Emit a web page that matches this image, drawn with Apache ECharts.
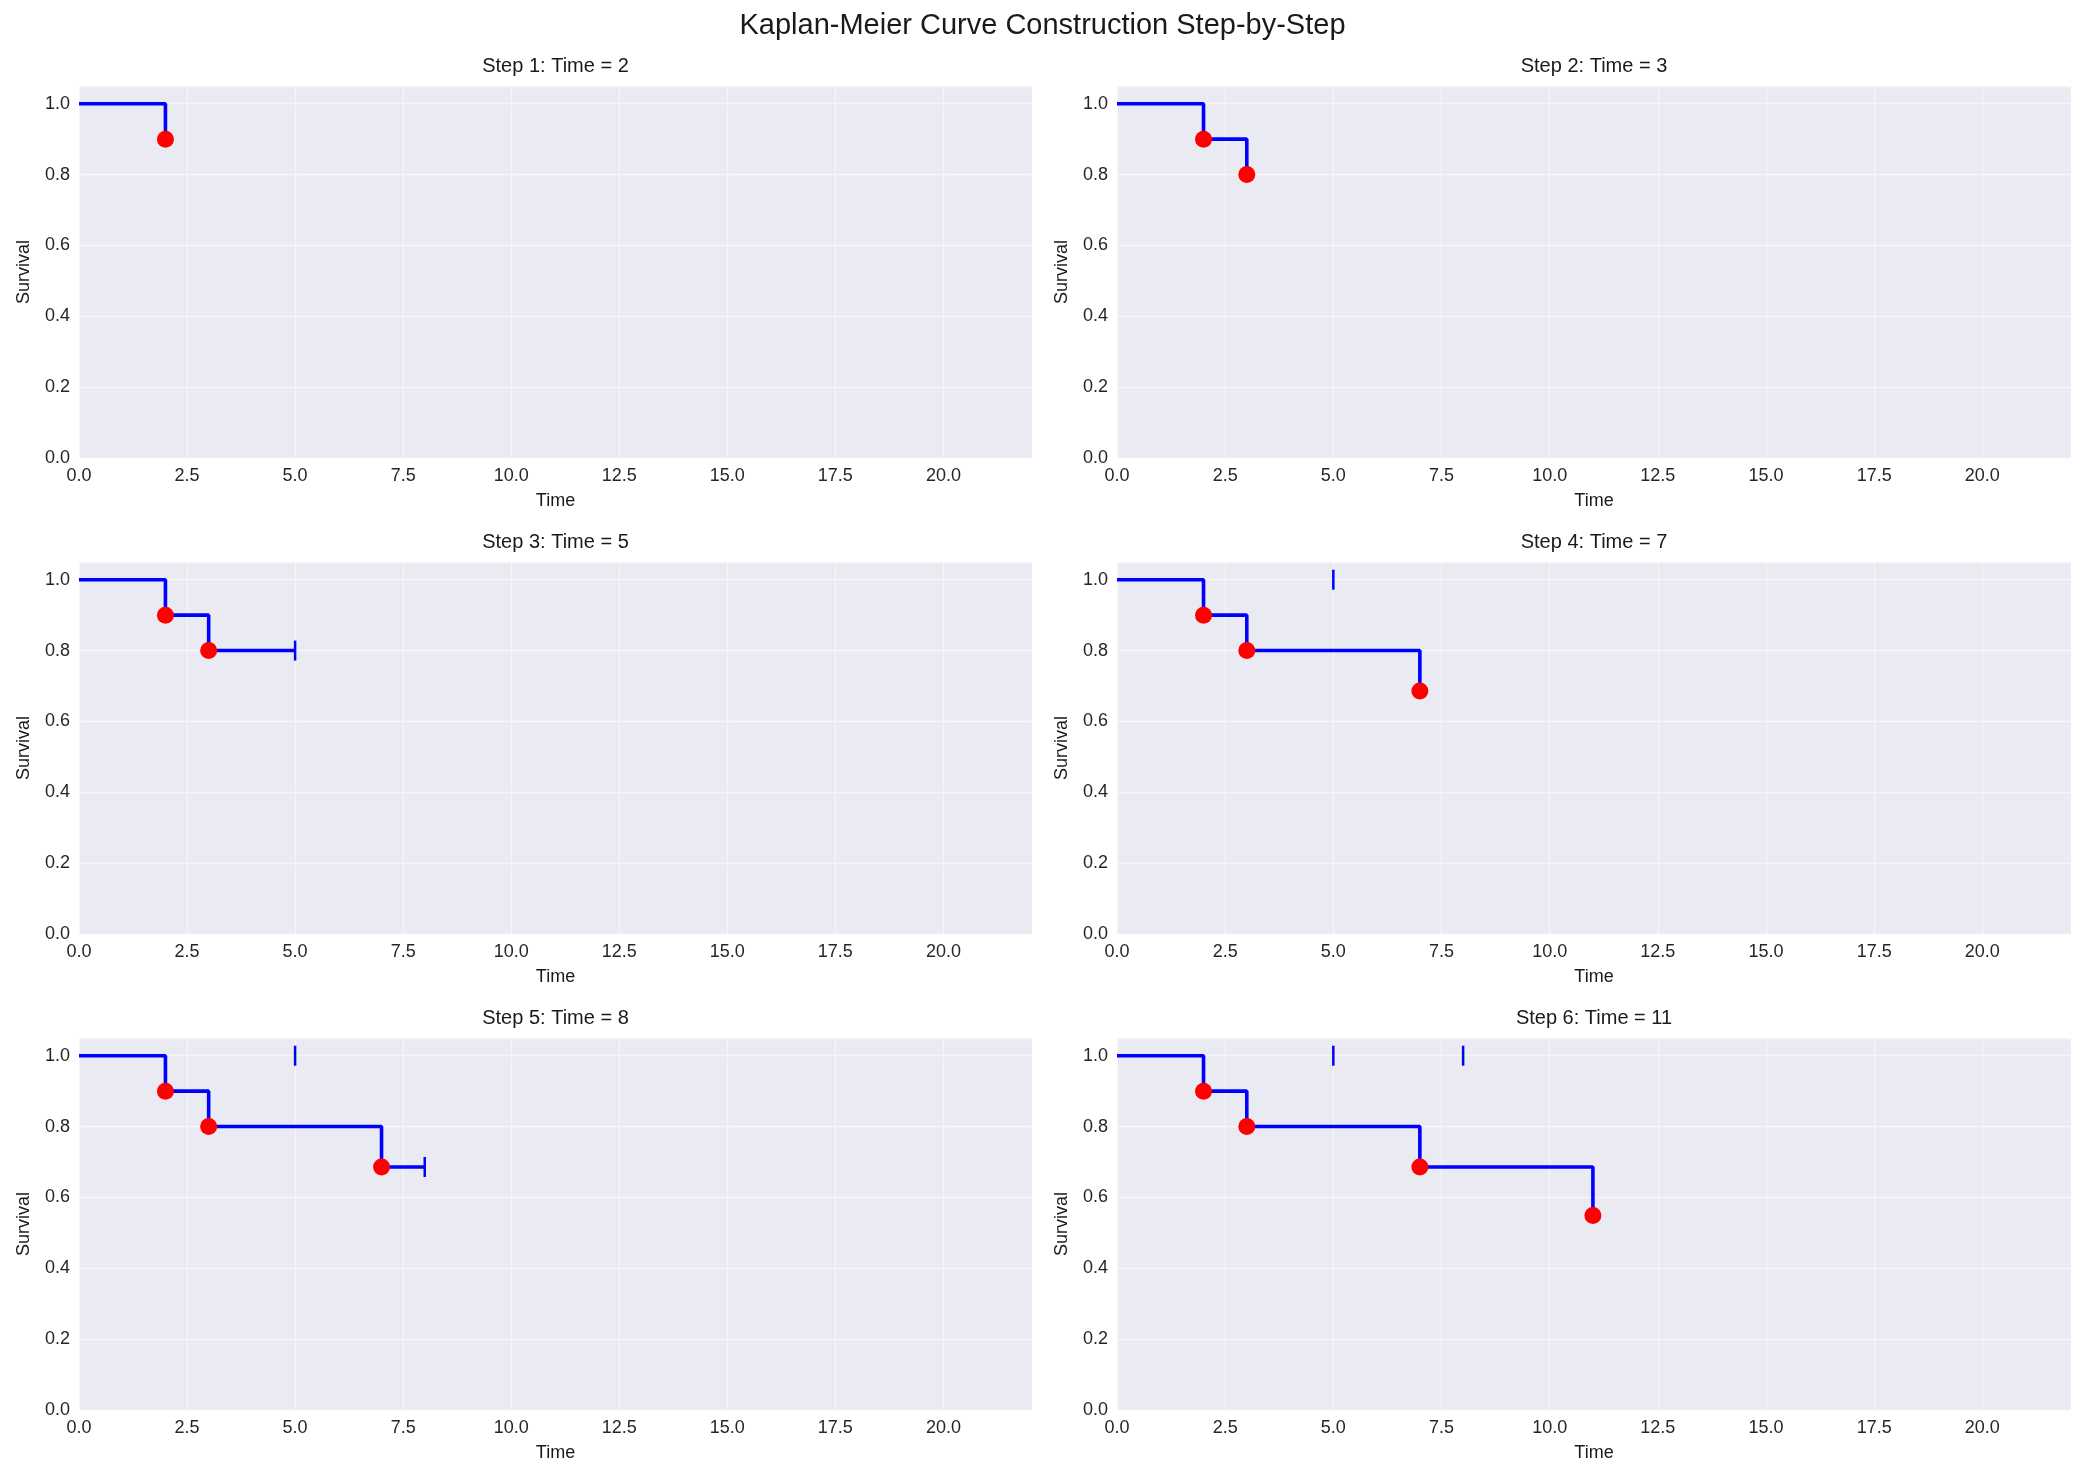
<!DOCTYPE html>
<html>
<head>
<meta charset="utf-8">
<script src="https://cdn.jsdelivr.net/npm/echarts@6/dist/echarts.min.js"></script>
<style>
html,body{margin:0;padding:0;background:#fff;}
#chart{width:2085px;height:1479px;}
</style>
</head>
<body>
<div id="chart"></div>
<script>
// ---- data ----
const mainTitle = "Kaplan-Meier Curve Construction Step-by-Step";
const times = [2, 3, 5, 7, 8, 11];
const eventFlags = [1, 1, 0, 1, 0, 1];          // 1 = event, 0 = censored
const survival = [0.9, 0.8, 0.8, 0.686, 0.686, 0.549];
const startPoint = [0, 1.0];
const pastCensorLevel = 1.0;                      // earlier censor marks drawn at this level
const xMin = 0, xMax = 22.05, xInterval = 2.5;
const yMin = 0, yMax = 1.05, yInterval = 0.2;

// ---- layout ----
const colLeft = [79, 1117];
const colWidth = [953, 954];
const rowTop = [86, 562, 1038];
const rowHeight = 372;
const FONT = "'Liberation Sans', Arial, sans-serif";
const GRID_LINE = {color: 'rgba(255,255,255,0.55)', width: 1.3};

const grids = [], xAxes = [], yAxes = [], series = [], titles = [];
titles.push({
  text: mainTitle, left: 'center', top: 11, padding: 0,
  textStyle: {fontFamily: FONT, fontSize: 29, fontWeight: 'normal', color: '#1a1a1a'}
});

for (let s = 1; s <= 6; s++) {
  const idx = s - 1;
  const col = idx % 2, row = Math.floor(idx / 2);
  grids.push({
    left: colLeft[col], top: rowTop[row], width: colWidth[col], height: rowHeight,
    show: true, backgroundColor: '#EAEAF2', borderWidth: 0, containLabel: false
  });
  titles.push({
    text: 'Step ' + s + ': Time = ' + times[idx],
    left: colLeft[col] + colWidth[col] / 2, textAlign: 'center',
    top: rowTop[row] - 30, padding: 0,
    textStyle: {fontFamily: FONT, fontSize: 20, fontWeight: 'normal', color: '#1a1a1a'}
  });
  xAxes.push({
    gridIndex: idx, type: 'value', min: xMin, max: xMax, interval: xInterval,
    name: 'Time', nameLocation: 'middle', nameGap: 34,
    nameTextStyle: {fontFamily: FONT, fontSize: 18, color: '#1a1a1a'},
    axisLine: {show: false}, axisTick: {show: false},
    axisLabel: {fontFamily: FONT, fontSize: 18, color: '#262626', margin: 9,
      showMaxLabel: false, formatter: v => v.toFixed(1)},
    splitLine: {show: true, lineStyle: GRID_LINE}
  });
  yAxes.push({
    gridIndex: idx, type: 'value', min: yMin, max: yMax, interval: yInterval,
    name: 'Survival', nameLocation: 'middle', nameGap: 46,
    nameTextStyle: {fontFamily: FONT, fontSize: 18, color: '#1a1a1a'},
    axisLine: {show: false}, axisTick: {show: false},
    axisLabel: {fontFamily: FONT, fontSize: 18, color: '#262626', margin: 9,
      showMaxLabel: false, formatter: v => v.toFixed(1)},
    splitLine: {show: true, lineStyle: GRID_LINE}
  });

  const curve = [startPoint];
  const events = [];
  const censored = [];
  for (let i = 0; i < s; i++) {
    curve.push([times[i], survival[i]]);
    if (eventFlags[i] === 1) {
      events.push([times[i], survival[i]]);
    } else {
      censored.push([times[i], i === s - 1 ? survival[i] : pastCensorLevel]);
    }
  }
  series.push({
    type: 'line', xAxisIndex: idx, yAxisIndex: idx, data: curve, step: 'end',
    symbol: 'none', lineStyle: {color: '#0000ff', width: 3.6}, z: 2, animation: false
  });
  series.push({
    type: 'scatter', xAxisIndex: idx, yAxisIndex: idx, data: censored,
    symbol: 'rect', symbolSize: [2.5, 20], itemStyle: {color: '#0000ff', opacity: 1}, z: 3, animation: false
  });
  series.push({
    type: 'scatter', xAxisIndex: idx, yAxisIndex: idx, data: events,
    symbol: 'circle', symbolSize: 17, itemStyle: {color: '#ff0000', opacity: 1}, z: 4, animation: false
  });
}

const chart = echarts.init(document.getElementById('chart'), null, {renderer: 'canvas'});
chart.setOption({
  backgroundColor: '#ffffff',
  animation: false,
  title: titles,
  grid: grids,
  xAxis: xAxes,
  yAxis: yAxes,
  series: series
});
</script>
</body>
</html>
